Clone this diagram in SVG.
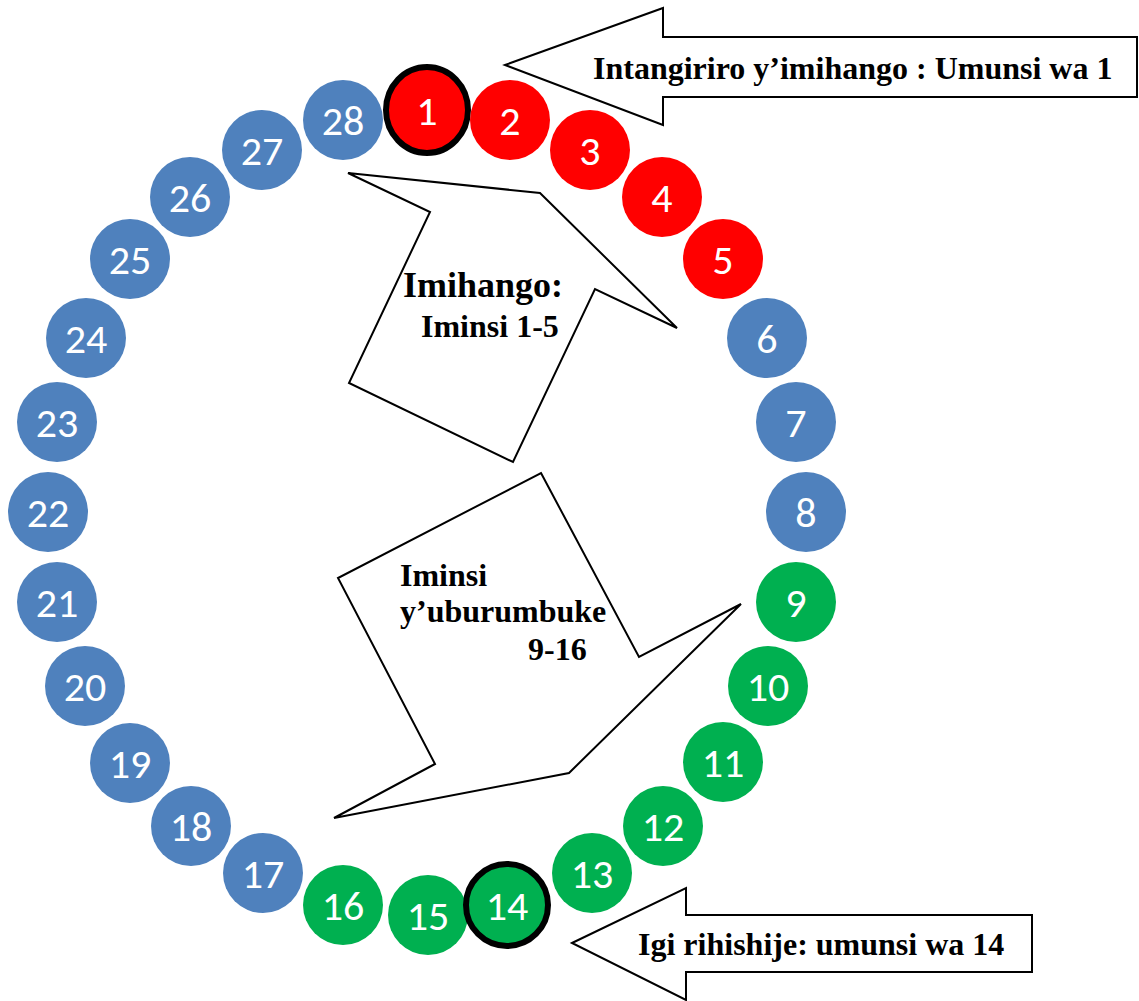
<svg xmlns="http://www.w3.org/2000/svg" width="1139" height="1001" viewBox="0 0 1139 1001">
<style>
.b{fill:#4F81BD}.r{fill:#FF0000}.g{fill:#00B050}
.ring{stroke:#000;stroke-width:6}
.n{font-family:Carlito,"Liberation Sans",sans-serif;font-size:42px;fill:#fff;text-anchor:middle}
.shape{fill:#fff;stroke:#000;stroke-width:2;stroke-linejoin:miter}
.t{font-family:"Liberation Serif","Times New Roman",serif;font-weight:bold;font-size:32px;fill:#000}
</style>
<rect width="1139" height="1001" fill="#fff"/>
<g id="connectors">
<polygon id="arrow-start" class="shape" points="505,65 663,8 663,37 1137,37 1137,97 663,97 663,125"/>
<polygon id="arrow-ovulation" class="shape" points="572,943 686,888 686,915 1032,915 1032,972 686,972 686,1000"/>
<polygon id="callout-menses" class="shape" points="348,173 540,193 677,328 595,289 513,462 349,383 430,212"/>
<polygon id="callout-fertile" class="shape" points="541,473 639,657 741,604 569,773 334,818 435,764 338,578"/>
</g>
<g id="labels">
<text class="t" x="593" y="79">Intangiriro y’imihango : Umunsi wa 1</text>
<text class="t" x="638" y="955">Igi rihishije: umunsi wa 14</text>
<text class="t" x="403" y="297" style="font-size:36px">Imihango:</text>
<text class="t" x="421" y="337">Iminsi 1-5</text>
<text class="t" x="400" y="586">Iminsi</text>
<text class="t" x="400" y="622">y’uburumbuke</text>
<text class="t" x="528" y="660">9-16</text>
</g>
<g id="node-28"><circle class="b" cx="343" cy="120" r="40"/><text class="n" x="343" y="135">28</text></g>
<g id="node-1"><ellipse class="r ring" cx="427" cy="110" rx="41" ry="43"/><text class="n" x="427" y="125">1</text></g>
<g id="node-2"><circle class="r" cx="510" cy="120" r="40"/><text class="n" x="510" y="135">2</text></g>
<g id="node-3"><circle class="r" cx="590" cy="150" r="40"/><text class="n" x="590" y="165">3</text></g>
<g id="node-4"><circle class="r" cx="662" cy="197" r="40"/><text class="n" x="662" y="212">4</text></g>
<g id="node-5"><circle class="r" cx="723" cy="259" r="40"/><text class="n" x="723" y="274">5</text></g>
<g id="node-6"><circle class="b" cx="767" cy="338" r="40"/><text class="n" x="767" y="353">6</text></g>
<g id="node-7"><circle class="b" cx="796" cy="422" r="40"/><text class="n" x="796" y="437">7</text></g>
<g id="node-8"><circle class="b" cx="806" cy="512" r="40"/><text class="n" x="806" y="527">8</text></g>
<g id="node-9"><circle class="g" cx="796" cy="602" r="40"/><text class="n" x="796" y="617">9</text></g>
<g id="node-10"><circle class="g" cx="768" cy="686" r="40"/><text class="n" x="768" y="701">10</text></g>
<g id="node-11"><circle class="g" cx="723" cy="762" r="40"/><text class="n" x="723" y="777">11</text></g>
<g id="node-12"><circle class="g" cx="663" cy="826" r="40"/><text class="n" x="663" y="841">12</text></g>
<g id="node-13"><circle class="g" cx="592" cy="873" r="40"/><text class="n" x="592" y="888">13</text></g>
<g id="node-15"><circle class="g" cx="428" cy="915" r="40"/><text class="n" x="428" y="930">15</text></g>
<g id="node-16"><circle class="g" cx="343" cy="905" r="40"/><text class="n" x="343" y="920">16</text></g>
<g id="node-17"><circle class="b" cx="263" cy="873" r="40"/><text class="n" x="263" y="888">17</text></g>
<g id="node-18"><circle class="b" cx="191" cy="826" r="40"/><text class="n" x="191" y="841">18</text></g>
<g id="node-19"><circle class="b" cx="130" cy="763" r="40"/><text class="n" x="130" y="778">19</text></g>
<g id="node-20"><circle class="b" cx="85" cy="686" r="40"/><text class="n" x="85" y="701">20</text></g>
<g id="node-21"><circle class="b" cx="57" cy="602" r="40"/><text class="n" x="57" y="617">21</text></g>
<g id="node-22"><circle class="b" cx="48" cy="512" r="40"/><text class="n" x="48" y="527">22</text></g>
<g id="node-23"><circle class="b" cx="57" cy="422" r="40"/><text class="n" x="57" y="437">23</text></g>
<g id="node-24"><circle class="b" cx="86" cy="338" r="40"/><text class="n" x="86" y="353">24</text></g>
<g id="node-25"><circle class="b" cx="130" cy="259" r="40"/><text class="n" x="130" y="274">25</text></g>
<g id="node-26"><circle class="b" cx="190" cy="197" r="40"/><text class="n" x="190" y="212">26</text></g>
<g id="node-27"><circle class="b" cx="262" cy="150" r="40"/><text class="n" x="262" y="165">27</text></g>
<g id="node-14"><circle class="g ring" cx="507" cy="905" r="41"/><text class="n" x="507" y="920">14</text></g>
</svg>
